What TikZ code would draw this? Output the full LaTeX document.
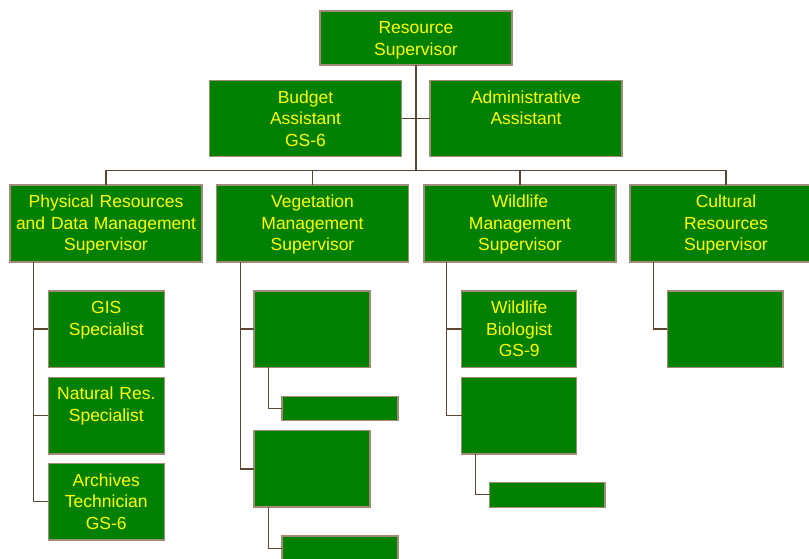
\documentclass[tikz,border=0pt]{standalone}
\usepackage{fontspec}
\setmainfont{Liberation Sans}
\definecolor{boxfill}{HTML}{008000}
\definecolor{boxline}{HTML}{A08C78}
\definecolor{connline}{HTML}{5A4632}
\definecolor{txtcol}{HTML}{FFFF00}
\begin{document}
\begin{tikzpicture}[x=1pt,y=-1pt,
  box/.style={draw=boxline,fill=boxfill,line width=1.5pt,inner sep=0pt,outer sep=0pt,anchor=north west},
  conn/.style={draw=connline,line width=1.3pt},
  txt/.style={text=txtcol,anchor=base,inner sep=0pt,text width=190pt,align=center,font=\fontsize{17.5}{21.7}\selectfont}]
\useasboundingbox (0,0) rectangle (809,559);
\begin{scope}
\clip (0,0) rectangle (809,559);
% top
\node[box,minimum width=192pt,minimum height=54pt] (rs) at (320,11) {};
\node[box,minimum width=192pt,minimum height=76pt] (ba) at (209.5,80.5) {};
\node[box,minimum width=192pt,minimum height=76pt] (aa) at (430,80.5) {};
% level 2
\node[box,minimum width=192pt,minimum height=77pt] (phys) at (10,185) {};
\node[box,minimum width=192pt,minimum height=77pt] (veg) at (216.5,185) {};
\node[box,minimum width=192pt,minimum height=77pt] (wild) at (424,185) {};
\node[box,minimum width=192pt,minimum height=77pt] (cult) at (630,185) {};
% level 3 physical
\node[box,minimum width=116pt,minimum height=76.5pt] (gis) at (48.3,290.8) {};
\node[box,minimum width=116pt,minimum height=76.5pt] (nat) at (48.3,377.3) {};
\node[box,minimum width=116pt,minimum height=76.5pt] (arch) at (48.3,463.5) {};
% vegetation
\node[box,minimum width=116pt,minimum height=76.5pt] (v1) at (254,290.8) {};
\node[box,minimum width=116pt,minimum height=24pt] (vs1) at (282,396.7) {};
\node[box,minimum width=116pt,minimum height=76.5pt] (v2) at (254,430.7) {};
\node[box,minimum width=116pt,minimum height=24pt] (vs2) at (282,536.2) {};
% wildlife
\node[box,minimum width=115pt,minimum height=76.5pt] (wb) at (461.7,290.8) {};
\node[box,minimum width=115pt,minimum height=76.5pt] (w2) at (461.7,377.3) {};
\node[box,minimum width=115.5pt,minimum height=25pt] (ws1) at (489.5,482.3) {};
% cultural
\node[box,minimum width=115.5pt,minimum height=76.5pt] (c1) at (667.3,290.8) {};
\end{scope}
% helper coordinates
\coordinate (bus) at (0,170.5);
\coordinate (pvx) at (33.5,0);
\coordinate (vvx) at (240.2,0);
\coordinate (vsx) at (268.5,0);
\coordinate (wvx) at (446.8,0);
\coordinate (wsx) at (475.8,0);
\coordinate (cvx) at (653.5,0);
% connectors
\draw[conn] (rs.south) -- (rs.south |- bus);
\draw[conn] (ba.east) -- (aa.west);
\draw[conn] (phys.north |- bus) -- (cult.north |- bus);
\draw[conn] (phys.north) -- (phys.north |- bus);
\draw[conn] (veg.north) -- (veg.north |- bus);
\draw[conn] (wild.north) -- (wild.north |- bus);
\draw[conn] (cult.north) -- (cult.north |- bus);
\draw[conn] (pvx |- phys.south) -- (pvx |- arch.west) -- (arch.west);
\draw[conn] (pvx |- gis.west) -- (gis.west);
\draw[conn] (pvx |- nat.west) -- (nat.west);
\draw[conn] (vvx |- veg.south) -- (vvx |- v2.west) -- (v2.west);
\draw[conn] (vvx |- v1.west) -- (v1.west);
\draw[conn] (vsx |- v1.south) -- (vsx |- vs1.west) -- (vs1.west);
\draw[conn] (vsx |- v2.south) -- (vsx |- vs2.west) -- (vs2.west);
\draw[conn] (wvx |- wild.south) -- (wvx |- w2.west) -- (w2.west);
\draw[conn] (wvx |- wb.west) -- (wb.west);
\draw[conn] (wsx |- w2.south) -- (wsx |- ws1.west) -- (ws1.west);
\draw[conn] (cvx |- cult.south) -- (cvx |- c1.west) -- (c1.west);
% texts
\node[txt] (trs) at ([yshift=-22.6pt]rs.north) {Resource\\Supervisor};
\node[txt] (tba) at ([yshift=-22.6pt]ba.north) {Budget\\Assistant\\GS-6};
\node[txt] (taa) at ([yshift=-22.6pt]aa.north) {Administrative\\Assistant};
\node[txt] (tphys) at ([yshift=-22.6pt]phys.north) {Physical Resources\\and Data Management\\Supervisor};
\node[txt] (tveg) at ([yshift=-22.6pt]veg.north) {Vegetation\\Management\\Supervisor};
\node[txt] (twild) at ([yshift=-22.6pt]wild.north) {Wildlife\\Management\\Supervisor};
\begin{scope}
\clip (0,0) rectangle (809,559);
\node[txt] (tcult) at ([yshift=-22.6pt]cult.north) {Cultural\\Resources\\Supervisor};
\end{scope}
\node[txt] (tgis) at ([yshift=-22.6pt]gis.north) {GIS\\Specialist};
\node[txt] (tnat) at ([yshift=-22.6pt]nat.north) {Natural Res.\\Specialist};
\node[txt] (tarch) at ([yshift=-22.6pt]arch.north) {Archives\\Technician\\GS-6};
\node[txt] (twb) at ([yshift=-22.6pt]wb.north) {Wildlife\\Biologist\\GS-9};
\end{tikzpicture}
\end{document}
